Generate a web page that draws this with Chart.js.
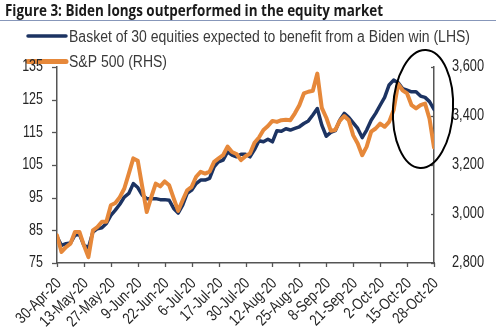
<!DOCTYPE html>
<html>
<head>
<meta charset="utf-8">
<script src="https://cdn.jsdelivr.net/npm/chart.js@4.4.0/dist/chart.umd.min.js"></script>
<style>
  html, body { margin: 0; padding: 0; background: #fff; }
</style>
</head>
<body>
<canvas id="biden" width="496" height="329"></canvas>
<script>
// x-axis tick labels (one every 6 points)
const tickLabels = [
    "30-Apr-20", "13-May-20", "27-May-20", "9-Jun-20", "22-Jun-20",
    "6-Jul-20", "17-Jul-20", "30-Jul-20", "12-Aug-20", "25-Aug-20",
    "8-Sep-20", "21-Sep-20", "2-Oct-20", "15-Oct-20", "28-Oct-20",
];

// Basket of 30 equities (LHS)
const basket = [
    83.0, 80.4, 80.9, 81.1, 83.5, 83.8, 80.4, 79.7, 84.5, 85.5,
    85.8, 87.1, 89.6, 91.2, 93.0, 95.2, 96.3, 99.3, 98.1, 95.8,
    94.7, 94.7, 94.7, 94.4, 94.4, 94.2, 91.7, 90.3, 92.7, 96.3,
    97.3, 99.3, 100.4, 100.4, 100.9, 104.4, 106.0, 106.5, 109.0, 108.0,
    107.5, 108.3, 108.3, 107.5, 109.7, 112.4, 112.1, 112.9, 112.1, 115.5,
    115.3, 116.1, 115.7, 116.2, 116.7, 117.7, 118.5, 120.3, 122.3, 117.2,
    113.8, 115.0, 115.5, 118.7, 120.8, 119.6, 117.9, 116.2, 113.4, 115.7,
    118.7, 120.8, 123.3, 125.7, 129.5, 131.0, 130.2, 128.4, 127.9, 127.4,
    127.4, 126.1, 125.7, 124.4, 122.0,
];

// S&P 500 (RHS)
const spx = [
    2913, 2845, 2865, 2879, 2927, 2927, 2872, 2824, 2933, 2947,
    2968, 2968, 3036, 3045, 3069, 3104, 3165, 3227, 3217, 3111,
    3008, 3069, 3124, 3113, 3133, 3117, 3064, 3013, 3056, 3097,
    3111, 3152, 3172, 3165, 3173, 3213, 3227, 3240, 3275, 3253,
    3245, 3220, 3236, 3247, 3291, 3312, 3343, 3359, 3380, 3376,
    3383, 3385, 3383, 3411, 3444, 3492, 3499, 3503, 3573, 3433,
    3393, 3340, 3343, 3380, 3400, 3383, 3321, 3288, 3240, 3275,
    3336, 3349, 3369, 3356, 3376, 3424, 3531, 3505, 3492, 3444,
    3431, 3444, 3451, 3389, 3272,
];

const NAVY = "#1c3362";
const ORANGE = "#e6883a";
const AXIS = "#555555";
const TXT = "#262626";
const LABEL_FONT = "16px 'Liberation Sans', Arial, sans-serif";

// draws text squeezed horizontally, like the narrow font of the original
function narrowText(ctx, text, x, y, opts) {
    ctx.save();
    ctx.font = opts.font || LABEL_FONT;
    ctx.fillStyle = opts.color || TXT;
    ctx.textAlign = opts.align || "left";
    ctx.textBaseline = opts.baseline || "alphabetic";
    ctx.translate(x, y);
    if (opts.rotate) ctx.rotate(opts.rotate);
    let sx = opts.squeeze || 1;
    if (opts.width) sx = opts.width / ctx.measureText(text).width;
    ctx.scale(sx, 1);
    ctx.fillText(text, 0, 0);
    ctx.restore();
}

function tick(ctx, x1, y1, x2, y2) {
    ctx.beginPath();
    ctx.moveTo(x1, y1);
    ctx.lineTo(x2, y2);
    ctx.stroke();
}

const fmtThousands = (v) => String(v).replace(/\B(?=(\d{3})+(?!\d))/g, ",");

// title, legend, tick marks and labels, and the ellipse callout
const decorations = {
    id: "decorations",
    afterDraw(chart) {
        const ctx = chart.ctx;
        narrowText(ctx, "Figure 3: Biden longs outperformed in the equity market", 5, 15.5,
            { font: "bold 16px 'Open Sans', sans-serif", color: "#1a1a1a", width: 378 });
        ctx.save();
        ctx.strokeStyle = "#8797ba";
        ctx.lineWidth = 1;
        tick(ctx, 0, 20.5, 496, 20.5);

        ctx.lineCap = "round";
        ctx.strokeStyle = NAVY;
        ctx.lineWidth = 3.5;
        tick(ctx, 28, 36, 66, 36);
        ctx.strokeStyle = ORANGE;
        ctx.lineWidth = 5;
        tick(ctx, 28, 61.5, 66, 61.5);
        ctx.restore();
        narrowText(ctx, "Basket of 30 equities expected to benefit from a Biden win (LHS)", 69, 41.5,
            { font: "16px 'Liberation Sans', Arial, sans-serif", color: "#3a3a3a", width: 401 });
        narrowText(ctx, "S&P 500 (RHS)", 69, 66.5,
            { font: "16px 'Liberation Sans', Arial, sans-serif", color: "#3a3a3a", width: 98 });

        const xs = chart.scales.x, y1 = chart.scales.y, y2 = chart.scales.y2;
        const area = chart.chartArea;

        ctx.save();
        ctx.strokeStyle = AXIS;
        ctx.lineWidth = 1.3;
        xs.ticks.forEach((t) => {
            const px = Math.round(xs.getPixelForValue(t.value)) + 0.5;
            tick(ctx, px, area.bottom, px, area.bottom + 4);
        });
        y1.ticks.forEach((t) => {
            const py = Math.round(y1.getPixelForValue(t.value)) + 0.5;
            tick(ctx, area.left - 5, py, area.left, py);
        });
        y2.ticks.forEach((t) => {
            const py = Math.round(y2.getPixelForValue(t.value)) + 0.5;
            tick(ctx, area.right - 3, py, area.right, py);
        });
        ctx.restore();

        xs.ticks.forEach((t, k) => {
            narrowText(ctx, tickLabels[k], xs.getPixelForValue(t.value) + 2, 281,
                { align: "right", baseline: "middle", rotate: -Math.PI / 4, squeeze: 0.8 });
        });
        y1.ticks.forEach((t) => {
            narrowText(ctx, String(t.value), 43, y1.getPixelForValue(t.value),
                { align: "right", baseline: "middle", squeeze: 0.78 });
        });
        y2.ticks.forEach((t) => {
            narrowText(ctx, fmtThousands(t.value), 452, y2.getPixelForValue(t.value),
                { align: "left", baseline: "middle", squeeze: 0.8 });
        });

        ctx.save();
        ctx.strokeStyle = "#000";
        ctx.lineWidth = 2;
        ctx.beginPath();
        ctx.ellipse(423, 109, 30, 59, 0.05, 0, Math.PI * 2);
        ctx.stroke();
        ctx.restore();
    },
};

new Chart(document.getElementById("biden"), {
    type: "line",
    data: {
        datasets: [
            {
                label: "Basket of 30 equities expected to benefit from a Biden win (LHS)",
                data: basket.map((v, i) => ({ x: i, y: v })),
                borderColor: NAVY,
                borderWidth: 3.5,
                yAxisID: "y",
                order: 1,
            },
            {
                label: "S&P 500 (RHS)",
                data: spx.map((v, i) => ({ x: i, y: v })),
                borderColor: ORANGE,
                borderWidth: 4,
                yAxisID: "y2",
                order: 0,
            },
        ],
    },
    options: {
        responsive: false,
        animation: false,
        devicePixelRatio: 1,
        layout: { padding: { top: 67, left: 0, right: 0, bottom: 0 } },
        elements: {
            point: { radius: 0 },
            line: { tension: 0, borderJoinStyle: "round", borderCapStyle: "round" },
        },
        plugins: { legend: { display: false }, tooltip: { enabled: false } },
        scales: {
            x: {
                type: "linear",
                min: 0,
                max: basket.length - 1,
                afterBuildTicks: (s) => {
                    s.ticks = tickLabels.map((_, k) => ({ value: k * 6 }));
                },
                afterFit: (s) => { s.height = 66; },
                border: { color: AXIS, width: 1.5 },
                grid: { display: false },
                ticks: { display: false },
            },
            y: {
                position: "left",
                min: 75,
                max: 135,
                afterFit: (s) => { s.width = 57; },
                border: { color: AXIS, width: 1.5 },
                grid: { display: false },
                ticks: { display: false, stepSize: 10 },
            },
            y2: {
                position: "right",
                min: 2800,
                max: 3600,
                afterFit: (s) => { s.width = 62; },
                border: { color: AXIS, width: 1.5 },
                grid: { display: false },
                ticks: { display: false, stepSize: 200 },
            },
        },
    },
    plugins: [decorations],
});
</script>
</body>
</html>
